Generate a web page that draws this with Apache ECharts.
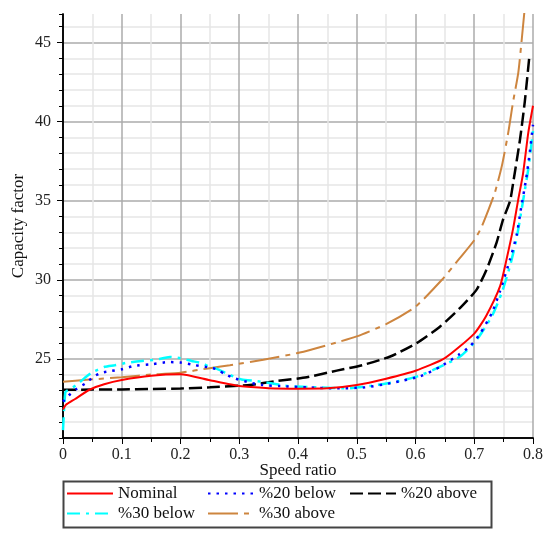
<!DOCTYPE html>
<html>
<head>
<meta charset="utf-8">
<script src="https://cdn.jsdelivr.net/npm/echarts@6/dist/echarts.min.js"></script>
<style>
  html, body { margin: 0; padding: 0; background: #fff; }
  #chart { width: 547px; height: 538px; }
</style>
</head>
<body>
<div id="chart"></div>
<script>
// series names (legend)
const seriesNames = ['Nominal', '%20 below', '%20 above', '%30 below', '%30 above'];

// [speed ratio, capacity factor]
const nominal = [
  [0, 21.8], [0.005, 22.1], [0.02, 22.45], [0.045, 23.05], [0.07, 23.4], [0.1, 23.67],
  [0.15, 23.94], [0.2, 24.03], [0.25, 23.65], [0.3, 23.28], [0.35, 23.15], [0.4, 23.12],
  [0.45, 23.14], [0.5, 23.35], [0.55, 23.75], [0.6, 24.25], [0.65, 25.05], [0.7, 26.6],
  [0.72, 27.7], [0.744, 29.6], [0.755, 31.3], [0.766, 33.2], [0.775, 35.1], [0.783, 36.7],
  [0.792, 39.3], [0.8, 41.0]
];
const below20 = [
  [0, 22.3], [0.01, 22.7], [0.023, 23.1], [0.039, 23.47], [0.052, 23.88], [0.066, 24.13],
  [0.083, 24.24], [0.1, 24.34], [0.12, 24.55], [0.15, 24.66], [0.18, 24.8], [0.2, 24.77],
  [0.225, 24.6], [0.25, 24.45], [0.262, 24.34], [0.275, 24.05], [0.29, 23.8], [0.318, 23.5],
  [0.34, 23.35], [0.37, 23.28], [0.415, 23.2], [0.466, 23.14], [0.514, 23.2], [0.562, 23.5],
  [0.608, 23.9], [0.642, 24.5], [0.673, 25.25], [0.693, 25.8], [0.71, 26.6], [0.73, 27.9],
  [0.744, 29.3], [0.761, 31.3], [0.772, 32.8], [0.78, 34.6], [0.788, 36.3], [0.794, 37.9],
  [0.8, 39.8]
];
const above20 = [
  [0, 23.05], [0.05, 23.06], [0.1, 23.07], [0.15, 23.1], [0.2, 23.13], [0.25, 23.2],
  [0.3, 23.3], [0.318, 23.35], [0.364, 23.6], [0.415, 23.84], [0.466, 24.26], [0.511, 24.62],
  [0.557, 25.15], [0.602, 26.0], [0.642, 27.05], [0.676, 28.22], [0.704, 29.38], [0.721, 30.65],
  [0.738, 32.35], [0.749, 33.8], [0.761, 35.0], [0.767, 36.3], [0.778, 38.9], [0.786, 41.25],
  [0.794, 44.2]
];
const below30 = [
  [0, 20.5], [0.004, 22.9], [0.009, 23.03], [0.023, 23.35], [0.037, 23.8], [0.049, 24.14],
  [0.071, 24.5], [0.088, 24.6], [0.111, 24.77], [0.134, 24.87], [0.157, 24.94], [0.182, 25.12],
  [0.2, 25.04], [0.219, 24.87], [0.236, 24.73], [0.247, 24.55], [0.264, 24.34], [0.281, 24.03],
  [0.304, 23.7], [0.33, 23.6], [0.383, 23.29], [0.432, 23.2], [0.483, 23.14], [0.523, 23.29],
  [0.568, 23.56], [0.605, 23.92], [0.63, 24.3], [0.676, 25.15], [0.704, 26.2], [0.73, 27.7],
  [0.747, 29.2], [0.761, 30.9], [0.772, 32.6], [0.784, 35.2], [0.792, 37.0], [0.8, 39.4]
];
const above30 = [
  [0, 23.56], [0.04, 23.68], [0.1, 23.84], [0.157, 24.03], [0.2, 24.13], [0.247, 24.4],
  [0.284, 24.6], [0.341, 24.94], [0.403, 25.4], [0.466, 26.04], [0.5, 26.42], [0.55, 27.2],
  [0.6, 28.3], [0.645, 30.0], [0.675, 31.35], [0.7, 32.5], [0.712, 33.3], [0.724, 34.4],
  [0.735, 35.5], [0.747, 37.2], [0.758, 39.33], [0.766, 41.23], [0.775, 43.1],
  [0.781, 45.25], [0.785, 46.8], [0.79, 48.5]
];

const xMin = 0, xMax = 0.8;
const yMin = 20, yMax = 46.8;

const chart = echarts.init(document.getElementById('chart'));

const font = '"Liberation Serif", "Times New Roman", serif';
const major = '#ababab';
const minor = '#e6e6e6';

function line(name, data, color, type, width) {
  return {
    name: name,
    type: 'line',
    data: data,
    showSymbol: false,
    symbol: 'none',
    smooth: 0.2,
    clip: true,
    lineStyle: { color: color, type: type, width: width, cap: 'butt' },
    itemStyle: { color: color }
  };
}

function legendAt(name, left, top) {
  return {
    data: [name],
    left: left,
    top: top,
    itemWidth: 46,
    itemHeight: 14,
    padding: 0,
    selectedMode: false,
    itemStyle: { opacity: 0 },
    textStyle: { fontFamily: font, fontSize: 17, color: '#111' }
  };
}

chart.setOption({
  animation: false,
  grid: { left: 63, right: 14, top: 14, bottom: 100 },
  xAxis: [
    {
      type: 'value', min: xMin, max: xMax, interval: 0.05,
      axisLine: { show: true, lineStyle: { color: '#000', width: 1.5 } },
      axisTick: { show: true, length: 4, lineStyle: { color: '#000' } },
      axisLabel: { show: false },
      splitLine: { show: true, lineStyle: { color: [major, minor], width: 1.5 } }
    },
    {
      type: 'value', min: xMin, max: xMax, interval: 0.1, position: 'bottom',
      name: 'Speed ratio', nameLocation: 'middle', nameGap: 24, nameMoveOverlap: false,
      nameTextStyle: { fontFamily: font, fontSize: 17, color: '#111' },
      axisLine: { show: true, lineStyle: { color: '#000', width: 1.5 } },
      axisTick: { show: true, length: 6, lineStyle: { color: '#000' } },
      axisLabel: {
        margin: 9, fontFamily: font, fontSize: 16, color: '#222',
        formatter: v => String(Math.round(v * 10) / 10)
      },
      splitLine: { show: false }
    }
  ],
  yAxis: [
    {
      type: 'value', min: yMin, max: yMax, interval: 1,
      axisLine: { show: true, lineStyle: { color: '#000', width: 1.5 } },
      axisTick: { show: true, length: 4, lineStyle: { color: '#000' } },
      axisLabel: { show: false },
      splitLine: {
        show: true, showMaxLine: false,
        lineStyle: { color: [major, minor, minor, minor, minor], width: 1.5 }
      }
    },
    {
      type: 'value', min: yMin, max: yMax, interval: 5, position: 'left',
      name: 'Capacity factor', nameLocation: 'middle', nameGap: 36, nameMoveOverlap: false,
      nameTextStyle: { fontFamily: font, fontSize: 17, color: '#111' },
      axisLine: { show: true, lineStyle: { color: '#000', width: 1.5 } },
      axisTick: { show: true, length: 6, lineStyle: { color: '#000' } },
      axisLabel: {
        margin: 12, fontFamily: font, fontSize: 16, color: '#222',
        showMinLabel: false, showMaxLabel: false,
        formatter: v => (v % 5 === 0 && v > yMin) ? String(v) : ''
      },
      splitLine: { show: false }
    }
  ],
  legend: [
    legendAt(seriesNames[0], 66, 485),
    legendAt(seriesNames[1], 207, 485),
    legendAt(seriesNames[2], 349, 485),
    legendAt(seriesNames[3], 66, 505),
    legendAt(seriesNames[4], 207, 505)
  ],
  graphic: [{
    type: 'rect',
    left: 61, top: 479,
    shape: { width: 428, height: 46 },
    style: { fill: 'none', stroke: '#444', lineWidth: 2 },
    z: 10
  }],
  series: [
    line(seriesNames[2], above20, '#000000', [13, 5], 2.5),
    line(seriesNames[4], above30, '#cd853f', [30, 6, 5, 6], 2),
    line(seriesNames[3], below30, '#00ffff', [13, 6, 3, 6], 2.5),
    line(seriesNames[1], below20, '#0000ff', [2.5, 6], 2.5),
    line(seriesNames[0], nominal, '#ff0000', 'solid', 2)
  ]
});
</script>
</body>
</html>
